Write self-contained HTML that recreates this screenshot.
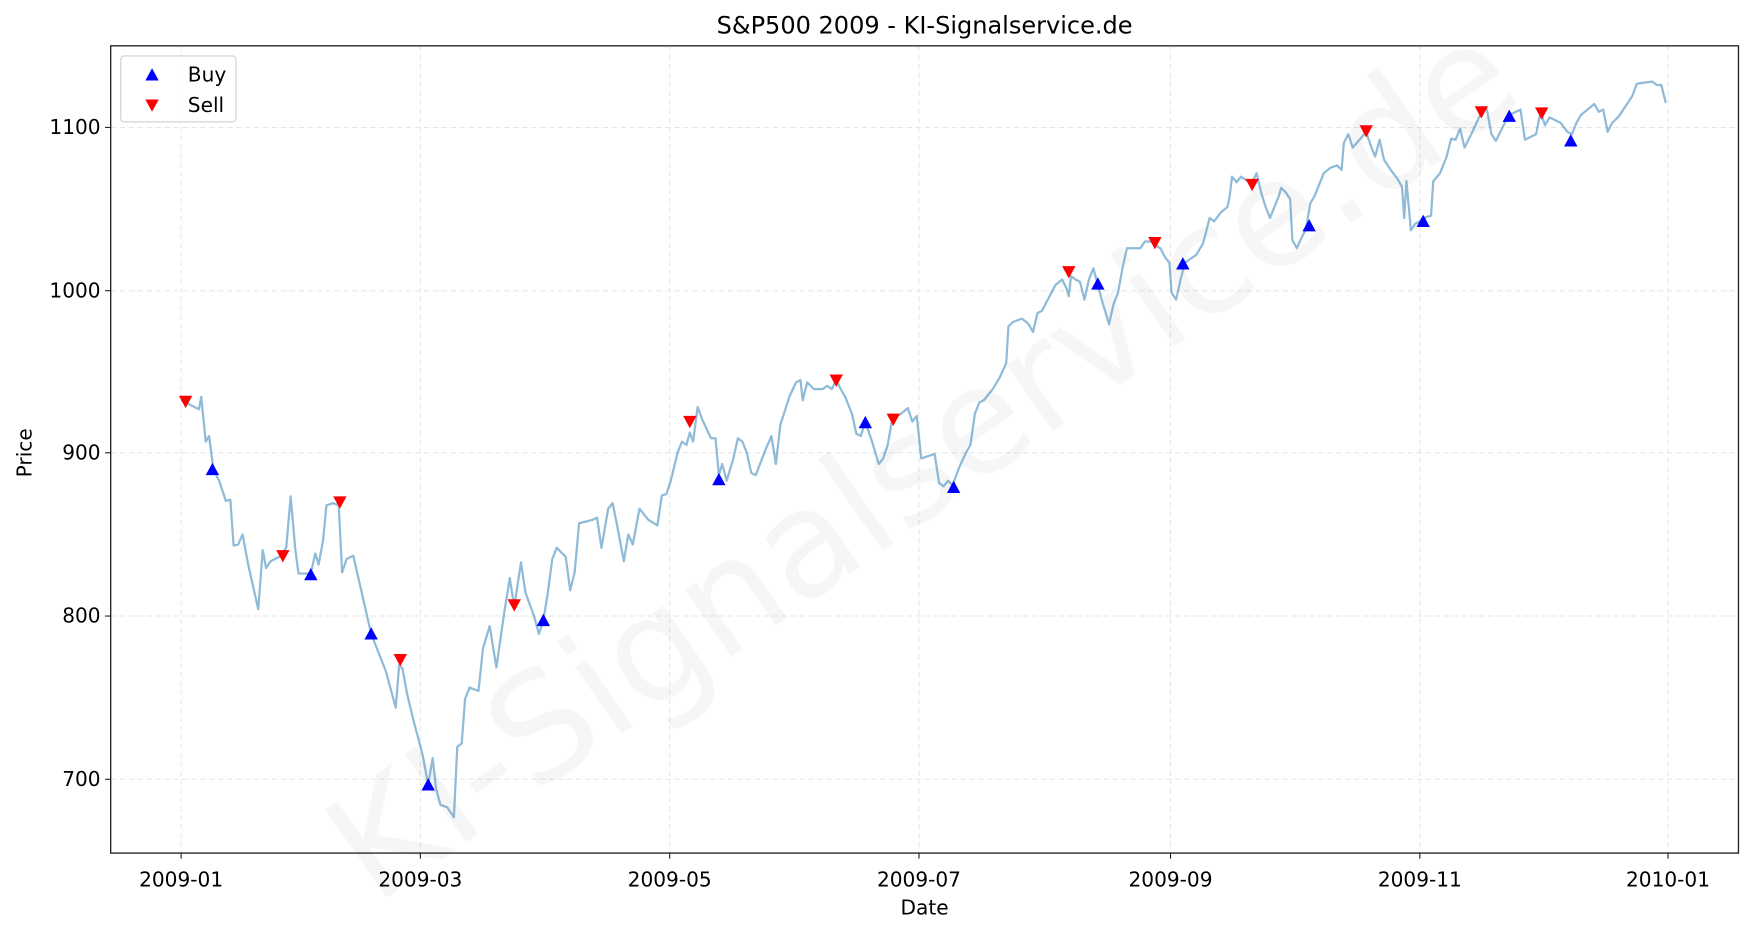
<!DOCTYPE html>
<html><head><meta charset="utf-8"><style>html,body{margin:0;padding:0;background:#fff}svg{display:block}</style></head>
<body>
<svg width="1753" height="932" viewBox="0 0 1568 833.6" preserveAspectRatio="none" xmlns="http://www.w3.org/2000/svg" font-family="'DejaVu Sans','Liberation Sans',sans-serif">
<rect width="1568" height="834" fill="#fff"/>
<g stroke="#e6e6e6" stroke-width="0.9" stroke-dasharray="5,3">
<line x1="162" y1="41" x2="162" y2="763"/><line x1="376" y1="41" x2="376" y2="763"/><line x1="599" y1="41" x2="599" y2="763"/><line x1="822" y1="41" x2="822" y2="763"/><line x1="1047" y1="41" x2="1047" y2="763"/><line x1="1270" y1="41" x2="1270" y2="763"/><line x1="1492" y1="41" x2="1492" y2="763"/>
<line x1="99" y1="114" x2="1555" y2="114"/><line x1="99" y1="260" x2="1555" y2="260"/><line x1="99" y1="405" x2="1555" y2="405"/><line x1="99" y1="551" x2="1555" y2="551"/><line x1="99" y1="697" x2="1555" y2="697"/>
</g>
<text x="830" y="420" transform="rotate(-35 830 420)" text-anchor="middle" dominant-baseline="middle" font-size="132" fill="#000" fill-opacity="0.035">KI-Signalservice.de</text>
<polyline fill="none" stroke="#1f77b4" stroke-opacity="0.5" stroke-width="2" stroke-linejoin="round" points="162,358 170,362 178,366 180,355 184,395 187,390 191,420 196,430 202,448 206,447 209,488 213,487 217,478 222,505 231,545 235,492 238,508 242,502 250,498 256,490 260,444 264,490 267,513 272,513 278,513 282,495 285,505 289,483 292,452 298,450 303,452 306,512 310,500 316,497 332,567 345,600 354,633 357,595 360,598 364,620 370,645 378,675 383,702 387,678 390,705 394,720 400,722 406,731 409,668 413,665 416,625 420,615 428,618 432,580 438,560 444,597 451,548 456,517 460,543 466,503 470,530 478,552 482,567 486,555 490,530 494,500 498,490 506,498 510,528 514,512 518,468 530,465 534,463 538,490 544,455 548,450 552,470 558,502 562,478 566,487 572,455 580,465 588,470 592,443 596,442 600,430 606,405 610,395 614,398 617,387 620,395 624,364 628,375 636,392 640,392 643,425 646,415 650,430 656,410 660,392 664,395 668,405 672,423 676,425 684,404 690,390 694,415 698,380 706,355 712,342 716,340 718,358 722,342 728,348 736,348 740,345 744,348 748,340 752,348 756,355 762,370 766,388 770,390 774,377 780,395 786,415 790,410 794,398 798,375 806,370 812,365 816,377 820,372 824,410 830,408 836,406 840,432 844,435 848,430 852,434 858,418 864,405 868,398 872,370 876,360 880,358 888,348 894,338 900,325 902,292 906,288 914,285 918,288 920,290 924,297 928,280 932,278 944,255 950,250 954,258 956,265 958,247 962,250 966,252 970,268 974,250 978,240 982,255 986,270 992,290 996,272 1000,262 1004,240 1008,222 1016,222 1020,222 1024,216 1030,216 1034,220 1038,222 1042,230 1046,235 1048,262 1052,268 1056,250 1060,235 1064,232 1070,228 1076,218 1082,195 1086,198 1092,190 1098,185 1100,175 1102,158 1106,163 1110,158 1116,162 1120,163 1124,155 1128,172 1132,185 1136,195 1140,185 1144,175 1146,168 1150,172 1154,178 1156,215 1160,222 1164,213 1168,205 1172,182 1176,175 1180,165 1184,155 1190,150 1196,148 1200,152 1202,128 1206,120 1210,132 1216,125 1222,118 1226,130 1230,140 1234,125 1238,143 1244,152 1250,160 1254,167 1256,195 1258,162 1262,206 1266,200 1270,198 1276,194 1280,193 1282,162 1288,155 1294,140 1298,124 1302,125 1306,115 1310,132 1316,120 1322,107 1326,98 1330,98 1334,120 1338,126 1342,118 1346,110 1350,103 1356,100 1360,98 1364,125 1370,122 1374,120 1378,100 1382,112 1386,105 1390,107 1396,110 1402,118 1406,120 1410,110 1414,103 1420,98 1426,93 1430,100 1434,98 1438,118 1442,110 1448,104 1452,98 1456,92 1460,86 1464,75 1470,74 1478,73 1482,76 1486,76 1490,92"/>
<defs>
<path id="up" d="M0,-6 L6,5 L-6,5 Z" fill="#0000ff"/>
<path id="dn" d="M0,6 L6,-5 L-6,-5 Z" fill="#ff0000"/>
</defs>
<g>
<use href="#up" x="190" y="420"/><use href="#up" x="278" y="514"/><use href="#up" x="332" y="567"/><use href="#up" x="383" y="702"/><use href="#up" x="486" y="555"/><use href="#up" x="643" y="429"/><use href="#up" x="774" y="378"/><use href="#up" x="853" y="436"/><use href="#up" x="982" y="254"/><use href="#up" x="1058" y="236"/><use href="#up" x="1171" y="202"/><use href="#up" x="1273" y="198"/><use href="#up" x="1350" y="104"/><use href="#up" x="1405" y="126"/>
<use href="#dn" x="166" y="359"/><use href="#dn" x="253" y="497"/><use href="#dn" x="304" y="449"/><use href="#dn" x="358" y="590"/><use href="#dn" x="460" y="541"/><use href="#dn" x="617" y="377"/><use href="#dn" x="748" y="340"/><use href="#dn" x="799" y="375"/><use href="#dn" x="956" y="243"/><use href="#dn" x="1033" y="217"/><use href="#dn" x="1120" y="165"/><use href="#dn" x="1222" y="117"/><use href="#dn" x="1325" y="100"/><use href="#dn" x="1379" y="101"/>
</g>
<rect x="99" y="41" width="1456" height="722" fill="none" stroke="#222" stroke-width="1.2"/>
<g stroke="#222" stroke-width="1">
<line x1="162" y1="763" x2="162" y2="768"/><line x1="376" y1="763" x2="376" y2="768"/><line x1="599" y1="763" x2="599" y2="768"/><line x1="822" y1="763" x2="822" y2="768"/><line x1="1047" y1="763" x2="1047" y2="768"/><line x1="1270" y1="763" x2="1270" y2="768"/><line x1="1492" y1="763" x2="1492" y2="768"/>
<line x1="94" y1="114" x2="99" y2="114"/><line x1="94" y1="260" x2="99" y2="260"/><line x1="94" y1="405" x2="99" y2="405"/><line x1="94" y1="551" x2="99" y2="551"/><line x1="94" y1="697" x2="99" y2="697"/>
</g>
<g font-size="18" fill="#000" text-anchor="middle">
<text x="162" y="793">2009-01</text><text x="376" y="793">2009-03</text><text x="599" y="793">2009-05</text><text x="822" y="793">2009-07</text><text x="1047" y="793">2009-09</text><text x="1270" y="793">2009-11</text><text x="1492" y="793">2010-01</text>
<text x="827" y="818">Date</text>
<text x="827" y="30" font-size="21.5">S&amp;P500 2009 - KI-Signalservice.de</text>
<text x="28" y="405" transform="rotate(-90 28 405)">Price</text>
</g>
<g font-size="18" fill="#000" text-anchor="end">
<text x="90" y="120">1100</text><text x="90" y="266">1000</text><text x="90" y="411">900</text><text x="90" y="557">800</text><text x="90" y="703">700</text>
</g>
<rect x="108" y="50" width="103" height="59" rx="3" fill="#fff" fill-opacity="0.8" stroke="#d0d0d0"/>
<use href="#up" x="136" y="67"/><use href="#dn" x="136" y="94"/>
<text x="168" y="73" font-size="18">Buy</text><text x="168" y="100" font-size="18">Sell</text>
</svg>
</body></html>
